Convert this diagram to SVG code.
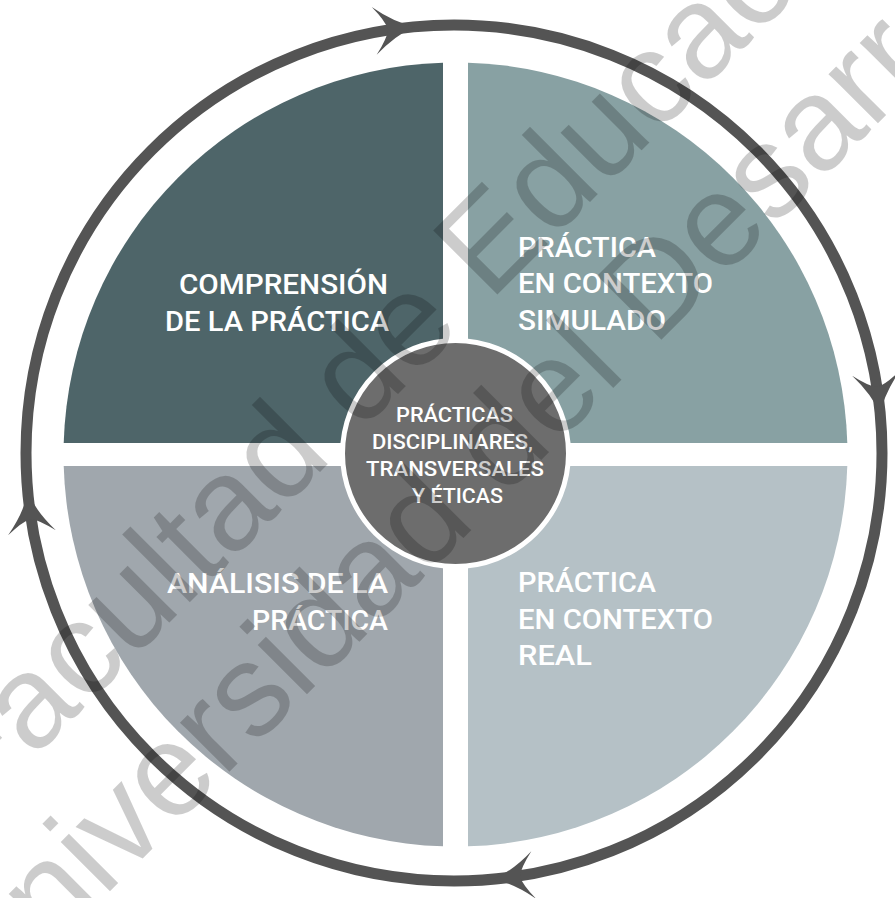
<svg xmlns="http://www.w3.org/2000/svg" width="895" height="898" viewBox="0 0 895 898">
<style>
.lbl{font-family:Roboto,"Liberation Sans",sans-serif;font-weight:500;fill:#ffffff;font-size:27.5px}
.ctr{font-family:Roboto,"Liberation Sans",sans-serif;font-weight:500;fill:#ffffff;font-size:20.5px}
.ring{fill:none;stroke:#545454;stroke-width:11}
.arr{fill:#545454}
.wm{font-family:"Liberation Sans",Arial,sans-serif;font-size:132px;fill:#000;fill-opacity:0.2}
</style>
<defs>
<path id="ah" d="M5,0 Q-15,-6 -36,-24 Q-24,-9 -22,0 Q-24,9 -36,24 Q-15,6 5,0 Z"/>
</defs>
<rect width="895" height="898" fill="#ffffff"/>
<g id="connectors">
<circle class="ring" cx="454" cy="453" r="428"/>
<use href="#ah" class="arr" transform="rotate(-95.9 454 453) translate(882 453) rotate(90)"/>
<use href="#ah" class="arr" transform="rotate(-5.9 454 453) translate(882 453) rotate(90)"/>
<use href="#ah" class="arr" transform="rotate(84.1 454 453) translate(882 453) rotate(90)"/>
<use href="#ah" class="arr" transform="rotate(174.1 454 453) translate(882 453) rotate(90)"/>
</g>
<g id="comprension">
<path d="M443,443 L443,62.7 A392,392 0 0 0 63.7,443 Z" fill="#4e6569"/>
<text class="lbl" x="179" y="294" textLength="209" lengthAdjust="spacingAndGlyphs">COMPRENSIÓN</text>
<text class="lbl" x="165" y="331" textLength="224" lengthAdjust="spacingAndGlyphs">DE LA PRÁCTICA</text>
</g>
<g id="simulado">
<path d="M468,443 L468,62.7 A392,392 0 0 1 847.3,443 Z" fill="#88a1a3"/>
<text class="lbl" x="518" y="257" textLength="138" lengthAdjust="spacingAndGlyphs">PRÁCTICA</text>
<text class="lbl" x="518" y="293" textLength="195" lengthAdjust="spacingAndGlyphs">EN CONTEXTO</text>
<text class="lbl" x="518" y="330" textLength="148" lengthAdjust="spacingAndGlyphs">SIMULADO</text>
</g>
<g id="analisis">
<path d="M443,466 L63.7,466 A392,392 0 0 0 443,846.3 Z" fill="#a0a7ad"/>
<text class="lbl" x="167" y="593" textLength="221" lengthAdjust="spacingAndGlyphs">ANÁLISIS DE LA</text>
<text class="lbl" x="252" y="630" textLength="136" lengthAdjust="spacingAndGlyphs">PRÁCTICA</text>
</g>
<g id="real">
<path d="M468,466 L847.3,466 A392,392 0 0 1 468,846.3 Z" fill="#b5c1c6"/>
<text class="lbl" x="518" y="592" textLength="138" lengthAdjust="spacingAndGlyphs">PRÁCTICA</text>
<text class="lbl" x="518" y="629" textLength="195" lengthAdjust="spacingAndGlyphs">EN CONTEXTO</text>
<text class="lbl" x="518" y="665" textLength="74" lengthAdjust="spacingAndGlyphs">REAL</text>
</g>
<g id="centro">
<circle cx="455.5" cy="453.5" r="113" fill="#6d6d6d" stroke="#ffffff" stroke-width="5"/>
<text class="ctr" x="396" y="422" textLength="117" lengthAdjust="spacingAndGlyphs">PRÁCTICAS</text>
<text class="ctr" x="372" y="449" textLength="161" lengthAdjust="spacingAndGlyphs">DISCIPLINARES,</text>
<text class="ctr" x="366" y="476" textLength="178" lengthAdjust="spacingAndGlyphs">TRANSVERSALES</text>
<text class="ctr" x="412" y="503" textLength="91" lengthAdjust="spacingAndGlyphs">Y ÉTICAS</text>
</g>
<g id="watermark" transform="rotate(-45)">
<text class="wm" x="-594" y="560">Facultad de Educación</text>
<text class="wm" x="-730" y="708">Universidad del Desarrollo</text>
</g>
</svg>
